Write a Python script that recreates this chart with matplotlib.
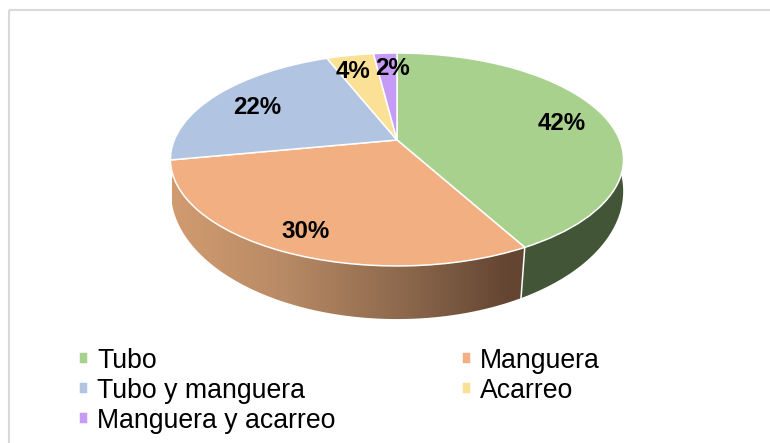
import numpy as np
import matplotlib
matplotlib.use("Agg")
import matplotlib.pyplot as plt
from matplotlib.colors import LinearSegmentedColormap
from matplotlib.patches import Polygon, Rectangle
from matplotlib.path import Path
from matplotlib.transforms import Transform

plt.rcParams['font.family'] = ['Liberation Sans', 'DejaVu Sans']

# Data
categorias = ["Tubo", "Manguera", "Tubo y manguera", "Acarreo", "Manguera y acarreo"]
valores = [42, 30, 22, 4, 2]
colores = ["#A9D18E", "#F2AF81", "#B1C5E3", "#FBE196", "#C59BF5"]

# Label positions in pixels, as placed in the original
pos_etiquetas = [(562, 123), (306, 231), (257, 107), (353, 71), (393, 68)]


class Perspectiva(Transform):
    """Tilted disc: unit circle -> ellipse in pixel coordinates."""
    input_dims = output_dims = 2

    def __init__(self, x0, y0, a, b, p):
        super().__init__()
        self.x0, self.y0, self.a, self.b, self.p = x0, y0, a, b, p

    def transform_non_affine(self, xy):
        xy = np.asarray(xy, dtype=float)
        w = 1 + self.p * xy[:, 1]
        return np.column_stack([self.x0 + self.b * xy[:, 0] / w,
                                self.y0 - self.a * xy[:, 1] / w])

    def transform_path_non_affine(self, path):
        return Path(self.transform_non_affine(path.vertices), path.codes)


tapa = Perspectiva(397, 140, 102.9, 222.7, 0.183)
base = Perspectiva(397, 172, 125, 223.6, 0.15)


def arco(disco, t1, t2):
    t = np.radians(np.linspace(t1, t2, 80))
    return disco.transform_non_affine(np.column_stack([np.sin(t), np.cos(t)]))


fig = plt.figure(figsize=(7.7, 4.43), dpi=100)
ax = fig.add_axes([0, 0, 1, 1])

# Side walls
fin_tubo = 360 * valores[0] / sum(valores)
fin_manguera = fin_tubo + 360 * valores[1] / sum(valores)

lado_verde = np.vstack([arco(tapa, 100, fin_tubo), arco(base, 90, fin_tubo)[::-1]])
ax.add_patch(Polygon(lado_verde, closed=True, fc="#425537", ec="none"))

# the orange wall starts a little below the seam on the left, as in the original
lado_naranja = np.vstack([arco(tapa, fin_tubo, fin_manguera - 9),
                          arco(base, fin_manguera + 9, fin_tubo)])
degradado = LinearSegmentedColormap.from_list(
    "lado", ["#D19B70", "#B88A65", "#8F6A4E", "#634532"])
borde = Polygon(lado_naranja, closed=True, fc="none", ec="none")
ax.add_patch(borde)
im = ax.imshow(np.linspace(0, 1, 256).reshape(1, -1), cmap=degradado,
               extent=[172, 510, 330, 150], aspect="auto", interpolation="bilinear", zorder=1)
im.set_clip_path(borde)
# gradient stays dark up to the seam
resto = ax.imshow(np.array([[1.0, 1.0]]), cmap=degradado, vmin=0, vmax=1,
                  extent=[510, 530, 330, 150], aspect="auto", zorder=1)
resto.set_clip_path(borde)

# White seam between the two visible walls
ax.plot(*np.vstack([arco(tapa, fin_tubo, fin_tubo)[:1], arco(base, fin_tubo, fin_tubo)[:1]]).T,
        color="white", lw=1.1, zorder=2)

# Top of the pie
wedges, _, autotexts = ax.pie(valores, colors=colores, startangle=90, counterclock=False,
                              autopct="%.0f%%", labels=None,
                              wedgeprops=dict(edgecolor="white", linewidth=1.1, zorder=3))
for w in wedges:
    w.set_transform(tapa + ax.transData)

for txt, (x, y) in zip(autotexts, pos_etiquetas):
    txt.set_position((x, y))
    txt.set_fontsize(17.3)
    txt.set_fontweight("bold")
    txt.set_color("black")
    txt.set_ha("center")
    txt.set_va("center")
    txt.set_zorder(5)

ax.set_aspect("auto")
ax.set_xlim(0, 770)
ax.set_ylim(443, 0)
ax.axis("off")

# Chart frame
ax.add_patch(Rectangle((9, 10), 800, 500, fc="none", ec="#D9D9D9", lw=1.5))

# Legend is filled by rows in the original, so reorder for column filling
orden = [0, 2, 4, 1, 3]
ax.legend([wedges[i] for i in orden], [categorias[i] for i in orden], ncol=2,
          loc="upper left", bbox_to_anchor=(79 / 770, 1 - 347.5 / 443), frameon=False,
          fontsize=19.2, handlelength=0.33, handleheight=0.33, handletextpad=0.36,
          labelspacing=0.15, columnspacing=4.72, borderpad=0, borderaxespad=0)

fig.savefig("out.png", dpi=100)
